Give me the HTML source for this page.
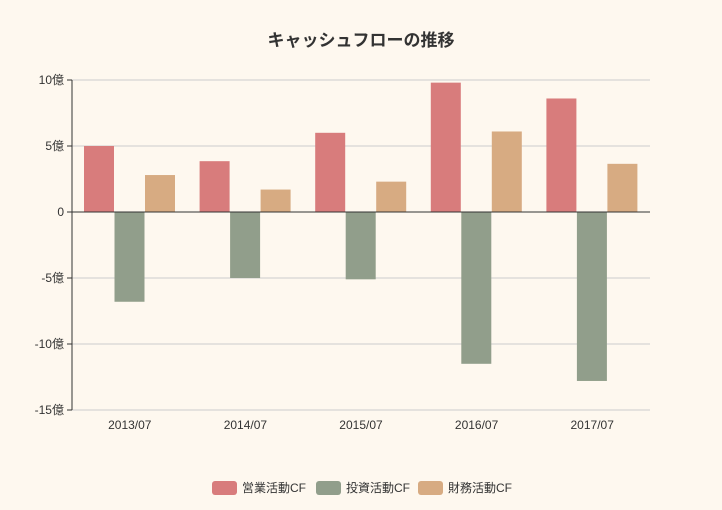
<!DOCTYPE html>
<html><head><meta charset="utf-8">
<style>
body{margin:0;background:#fef8ef;}
svg{display:block;font-family:"Liberation Sans","Noto Sans CJK JP",sans-serif;}
</style></head>
<body>
<svg id="chart" width="722" height="510">
<rect width="722" height="510" fill="#fef8ef"/>
<text x="361" y="46" text-anchor="middle" font-size="17" font-weight="bold" fill="#333">キャッシュフローの推移</text>
<g id="grid"></g><g id="bars"></g><g id="axes"></g><g id="legend"></g>
</svg>
<script>
const categories=["2013/07","2014/07","2015/07","2016/07","2017/07"];
const seriesNames=["営業活動CF","投資活動CF","財務活動CF"];
const operating=[5.0,3.85,6.0,9.8,8.6];
const investing=[-6.8,-5.0,-5.1,-11.5,-12.8];
const financing=[2.8,1.7,2.3,6.1,3.65];
const yTicks=[10,5,0,-5,-10,-15];
const yTickLabels=["10億","5億","0","-5億","-10億","-15億"];
const colors=["#d87c7c","#919e8b","#d7ab82"];
const NS="http://www.w3.org/2000/svg";
const L=72,R=650,T=80,B=410,yMax=10,yMin=-15;
const y=v=>T+(yMax-v)/(yMax-yMin)*(B-T);
const bw=(R-L)/categories.length;
const x=i=>L+i*bw;
function mk(p,tag,a){const e=document.createElementNS(NS,tag);for(const k in a)e.setAttribute(k,a[k]);p.appendChild(e);return e;}
const grid=document.getElementById('grid'),axes=document.getElementById('axes'),bars=document.getElementById('bars'),leg=document.getElementById('legend');
yTicks.forEach((t,i)=>{
  if(t!==0){const g=mk(grid,'line',{x1:L,x2:R,y1:y(t),y2:y(t),stroke:'#ccc'});
  
  }
  const tk=mk(axes,'line',{x1:L-5,x2:L,y1:y(t),y2:y(t),stroke:'#333'});
  
  
  const tx=mk(axes,'text',{x:L-8,y:y(t)+4,'text-anchor':'end','font-size':12,fill:'#333'});
  tx.textContent=yTickLabels[i];
  
  
});
const ya=mk(axes,'line',{x1:L,x2:L,y1:T,y2:B,stroke:'#333'});


const za=mk(axes,'line',{x1:L,x2:R,y1:y(0),y2:y(0),stroke:'#333'});


categories.forEach((c,i)=>{
  const tx=mk(axes,'text',{x:x(i)+bw/2,y:429,'text-anchor':'middle','font-size':12,fill:'#333'});
  tx.textContent=c;
  
  
});
const series=[operating,investing,financing];
const barW=30.5,off=12;
series.forEach((s,si)=>{
  s.forEach((v,i)=>{
    const bx=x(i)+off+si*barW;
    const r=mk(bars,'rect',{x:bx,y:Math.min(y(v),y(0)),width:barW-0.5,height:Math.abs(y(v)-y(0)),fill:colors[si]});
    
    
  });
});
const lx=[212,316,418];
seriesNames.forEach((n,i)=>{
  const r=mk(leg,'rect',{x:lx[i],y:481,width:25,height:14,rx:3,fill:colors[i]});
  
  
  const t=mk(leg,'text',{x:lx[i]+30,y:492,'font-size':12,fill:'#333'});
  t.textContent=n;
  
  
});
</script>
</body></html>
